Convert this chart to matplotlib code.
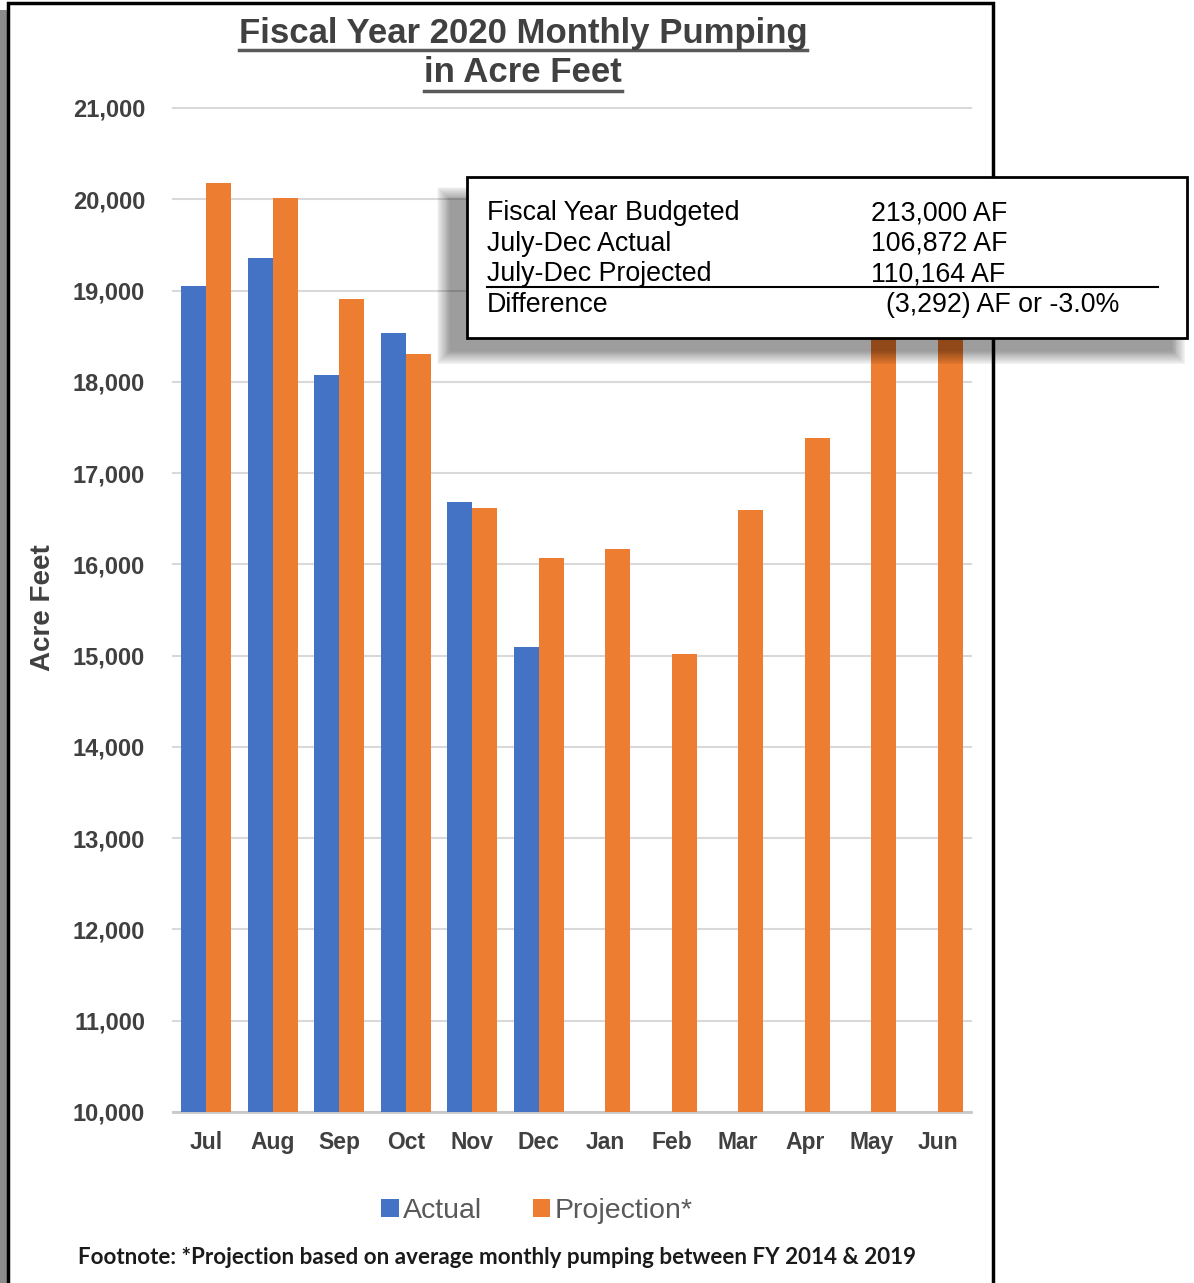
import matplotlib
matplotlib.use('Agg')
import matplotlib.pyplot as plt
from matplotlib.patches import Rectangle, Patch
from matplotlib.lines import Line2D
import numpy as np

months = ['Jul', 'Aug', 'Sep', 'Oct', 'Nov', 'Dec', 'Jan', 'Feb', 'Mar', 'Apr', 'May', 'Jun']
actual = [19050, 19360, 18070, 18540, 16680, 15090]
projection = [20180, 20010, 18910, 18310, 16620, 16070, 16170, 15020, 16600, 17380, 18900, 18780]
yticks = list(range(10000, 21001, 1000))
summary_labels = ['Fiscal Year Budgeted', 'July-Dec Actual', 'July-Dec Projected', 'Difference']
summary_values = ['213,000 AF', '106,872 AF', '110,164 AF', '(3,292) AF or -3.0%']

plt.rcParams['font.family'] = ['Liberation Sans', 'DejaVu Sans']

W, H = 1194, 1283
fig = plt.figure(figsize=(W / 100, H / 100), dpi=100)


def fx(x):
    return x / W


def fy(y):
    return 1 - y / H


BLUE = '#4472C4'
ORANGE = '#ED7D31'
TXT = '#404040'

# frame and its shadow
fig.add_artist(Rectangle((0, fy(1283)), fx(7), fy(10) - fy(1283), transform=fig.transFigure,
                         facecolor='#8c8c8c', edgecolor='none', zorder=0))
fig.add_artist(Rectangle((fx(8), fy(1300)), fx(993) - fx(8), fy(3) - fy(1300), transform=fig.transFigure,
                         facecolor='none', edgecolor='black', lw=2.5, zorder=1, clip_on=False))

ax = fig.add_axes([fx(173), fy(1112), fx(971) - fx(173), fy(108) - fy(1112)])
x = np.arange(len(months))
bw = 0.376
ax.bar(x[:len(actual)] - bw / 2, actual, bw, color=BLUE, zorder=3)
ax.bar(x + bw / 2, projection, bw, color=ORANGE, zorder=3)
ax.set_xlim(-0.5, len(months) - 0.5)
ax.set_ylim(10000, 21000)
ax.set_yticks(yticks, labels=[f'{v:,}' for v in yticks], fontweight='bold', fontsize=17, color=TXT)
ax.set_xticks(x, months, fontweight='bold', fontsize=16.5, color=TXT)
ax.tick_params(axis='y', length=0, pad=20)
ax.tick_params(axis='x', length=0, pad=14)
ax.yaxis.grid(True, color='#D9D9D9', lw=1.5, zorder=0)
for gl in ax.get_ygridlines():
    gl.set_clip_on(False)
ax.set_axisbelow(True)
for s in ['top', 'right', 'left']:
    ax.spines[s].set_visible(False)
ax.spines['bottom'].set_color('#C8C8C8')
ax.spines['bottom'].set_linewidth(2)
ax.patch.set_alpha(0)

fig.text(fx(43), fy(608), 'Acre Feet', rotation=90, ha='center', va='center',
         fontsize=20, fontweight='bold', color=TXT)

t1 = fig.text(fx(523), fy(34), 'Fiscal Year 2020 Monthly Pumping', ha='center', va='center',
              fontsize=25, fontweight='bold', color=TXT)
t2 = fig.text(fx(523), fy(73), 'in Acre Feet', ha='center', va='center',
              fontsize=25, fontweight='bold', color=TXT)

# legend
handles = [Patch(facecolor=BLUE, label='Actual'), Patch(facecolor=ORANGE, label='Projection*')]
fig.legend(handles=handles, loc='center', bbox_to_anchor=(fx(537), fy(1211)), ncol=2, frameon=False,
           fontsize=20.5, labelcolor='#595959', handlelength=0.6, handleheight=0.6,
           handletextpad=0.15, columnspacing=1.8)

fig.text(fx(497), fy(1257), 'Footnote: *Projection based on average monthly pumping between FY 2014 & 2019',
         ha='center', va='center', fontsize=16.1, fontweight='bold', color='#1a1a1a',
         family=['Lato', 'DejaVu Sans'])

# summary box with soft shadow
bx0, by0, bx1, by1 = 467, 177, 1187, 338
n = 16
for i in range(n):
    e = (n - i) * 0.9
    fig.add_artist(Rectangle((fx(bx0 - 16 - e), fy(by1 + 12 + e)),
                             fx(bx1 - 16 + e) - fx(bx0 - 16 - e), fy(by0 + 24 - e) - fy(by1 + 12 + e),
                             transform=fig.transFigure, facecolor='black', edgecolor='none',
                             alpha=0.028, zorder=10))
fig.add_artist(Rectangle((fx(bx0), fy(by1)), fx(bx1) - fx(bx0), fy(by0) - fy(by1),
                         transform=fig.transFigure, facecolor='white', edgecolor='black',
                         lw=2, zorder=11))
rows_y = [213, 244, 274, 305]
val_x = [871, 871, 871, 886]
for lab, val, ry, vx in zip(summary_labels, summary_values, rows_y, val_x):
    fig.text(fx(487), fy(ry), lab, ha='left', va='center', fontsize=19.3, color='black', zorder=12)
    fig.text(fx(vx), fy(ry), val, ha='left', va='center', fontsize=19.3, color='black', zorder=12)
fig.add_artist(Line2D([fx(487), fx(1158)], [fy(287), fy(287)], transform=fig.transFigure,
                      color='black', lw=1.5, zorder=12))

# title underlines
fig.canvas.draw()
r = fig.canvas.get_renderer()
for t, uy in [(t1, 50), (t2, 91)]:
    bb = t.get_window_extent(r)
    fig.add_artist(Line2D([bb.x0 / W, bb.x1 / W], [fy(uy), fy(uy)], transform=fig.transFigure,
                          color='#595959', lw=2.5))

fig.savefig('out.png', dpi=100)
